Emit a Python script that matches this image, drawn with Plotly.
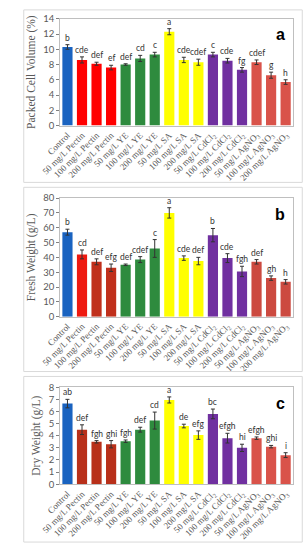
import plotly.graph_objects as go
from plotly.subplots import make_subplots

categories = ["Control", "50 mg/L Pectin", "100 mg/L Pectin", "200 mg/L Pectin",
              "50 mg/L YE", "100 mg/L YE", "200 mg/L YE",
              "50 mg/L SA", "100 mg/L SA", "200 mg/L SA",
              "50 mg/L CdCl<sub>2</sub>", "100 mg/L CdCl<sub>2</sub>", "200 mg/L CdCl<sub>2</sub>",
              "50 mg/L AgNO<sub>3</sub>", "100 mg/L AgNO<sub>3</sub>", "200 mg/L AgNO<sub>3</sub>"]

pcv = [10.3, 8.6, 8.1, 7.6, 8.0, 8.8, 9.3, 12.3, 8.6, 8.3, 9.3, 8.5, 7.3, 8.3, 6.6, 5.7]
pcv_err = [0.3, 0.4, 0.2, 0.3, 0.1, 0.4, 0.3, 0.4, 0.35, 0.4, 0.3, 0.3, 0.3, 0.3, 0.4, 0.3]
pcv_letters = ["b", "cde", "def", "ef", "def", "cd", "c", "a", "cde", "cdef", "c", "cde", "fg", "cdef", "g", "h"]

fw = [57, 42, 37, 33, 35, 38.5, 46, 70, 39.5, 37.5, 55, 39.5, 30.5, 37, 26, 23.5]
fw_err = [2, 3, 2, 2.5, 0.5, 2, 6, 3.5, 1.5, 2.5, 4.5, 3, 3.5, 1.5, 1.5, 1.5]
fw_letters = ["b", "cd", "def", "efg", "def", "cdef", "c", "a", "cde", "def", "b", "cde", "fgh", "def", "gh", "h"]

dw = [6.65, 4.5, 3.5, 3.3, 3.55, 4.5, 5.25, 6.95, 4.8, 4.05, 5.8, 3.8, 3.0, 3.8, 3.1, 2.4]
dw_err = [0.35, 0.4, 0.1, 0.3, 0.1, 0.2, 0.7, 0.25, 0.15, 0.35, 0.4, 0.4, 0.3, 0.1, 0.1, 0.2]
dw_letters = ["ab", "def", "fgh", "ghi", "fgh", "def", "cd", "a", "de", "efg", "bc", "efgh", "hi", "efgh", "ghi", "i"]

colors_a = ["#1a63c0"] + ["#ff0000"] * 3 + ["#2e8b3e"] * 3 + ["#ffff00"] * 3 + ["#7030a0"] * 3 + ["#d9534a"] * 3
colors_b = ["#1a63c0"] + ["#ee1a10", "#c0301c", "#c0301c"] + ["#2e8b3e"] * 3 + ["#ffff00"] * 3 + ["#7030a0"] * 3 + ["#cc4a40"] * 3
colors_c = ["#1a63c0"] + ["#b8301a"] * 3 + ["#2e8b3e"] * 3 + ["#ffff00"] * 3 + ["#7030a0"] * 3 + ["#d9534a"] * 3

W, H = 306, 550
fig = make_subplots(rows=3, cols=1)

panels = [
    (pcv, pcv_err, pcv_letters, colors_a, "Packed Cell Volume (%)", 14, 2, "a", (13, 122), 29),
    (fw, fw_err, fw_letters, colors_b, "Fresh Weight (g/L)", 80, 10, "b", (196, 317), 213),
    (dw, dw_err, dw_letters, colors_c, "Dry Weight (g/L)", 8, 1, "c", (389, 488), 406),
]
boxes = [(4, 180), (185, 373), (378, 547)]

x_idx = list(range(len(categories)))
for i, (vals, errs, letters, cols, title, ymax, dt, plab, (ytop, ybot), laby) in enumerate(panels):
    r = i + 1
    fig.add_trace(go.Bar(
        x=x_idx, y=vals, marker=dict(color=cols, line=dict(width=0)),
        error_y=dict(type="data", array=errs, visible=True, color="#333333", thickness=1, width=2),
        showlegend=False, hoverinfo="skip"), row=r, col=1)
    xa = "xaxis" if r == 1 else f"xaxis{r}"
    ya = "yaxis" if r == 1 else f"yaxis{r}"
    xref = "x" if r == 1 else f"x{r}"
    yref = "y" if r == 1 else f"y{r}"
    fig.layout[xa].update(
        domain=[43 / W, 292 / W], range=[-0.5, 15.5],
        tickmode="array", tickvals=x_idx, ticktext=categories, tickangle=-45,
        tickfont=dict(family="Liberation Serif", size=9, color="#595959"),
        showline=True, linecolor="#bfbfbf", linewidth=1, mirror=True,
        ticks="", showgrid=False, zeroline=False)
    fig.layout[ya].update(
        domain=[1 - ybot / H, 1 - ytop / H], range=[0, ymax], dtick=dt, tick0=0,
        tickfont=dict(family="Lato", size=9.5, color="#595959"),
        showline=True, linecolor="#bfbfbf", linewidth=1, mirror=True,
        ticks="outside", ticklen=3, tickcolor="#808080",
        showgrid=False, zeroline=False,
        title=dict(text=title, font=dict(family="Liberation Serif", size=11.5, color="#595959"), standoff=5))
    for j, (v, e, l) in enumerate(zip(vals, errs, letters)):
        fig.add_annotation(x=j, y=v + e, xref=xref, yref=yref, text=l, showarrow=False,
                           yanchor="bottom", yshift=0,
                           font=dict(family="Lato", size=8.5, color="#333333"))
    fig.add_annotation(x=286 / W, y=1 - laby / H, xref="paper", yref="paper",
                       text=f"<b>{plab}</b>", showarrow=False, xanchor="right", yanchor="middle",
                       font=dict(family="Liberation Sans", size=16, color="#000000"))
    by0, by1 = boxes[i]
    fig.add_shape(type="rect", xref="paper", yref="paper",
                  x0=4 / W, x1=302 / W, y0=1 - by1 / H, y1=1 - by0 / H,
                  line=dict(color="#d9d9d9", width=1), fillcolor="rgba(0,0,0,0)")

fig.update_layout(width=W, height=H, margin=dict(l=0, r=0, t=0, b=0),
                  paper_bgcolor="white", plot_bgcolor="white", bargap=0.3, hovermode=False)

fig.write_html("out.html", config={"displayModeBar": False, "staticPlot": True},
               post_script="document.body.style.margin='0';document.body.style.overflow='hidden';")
